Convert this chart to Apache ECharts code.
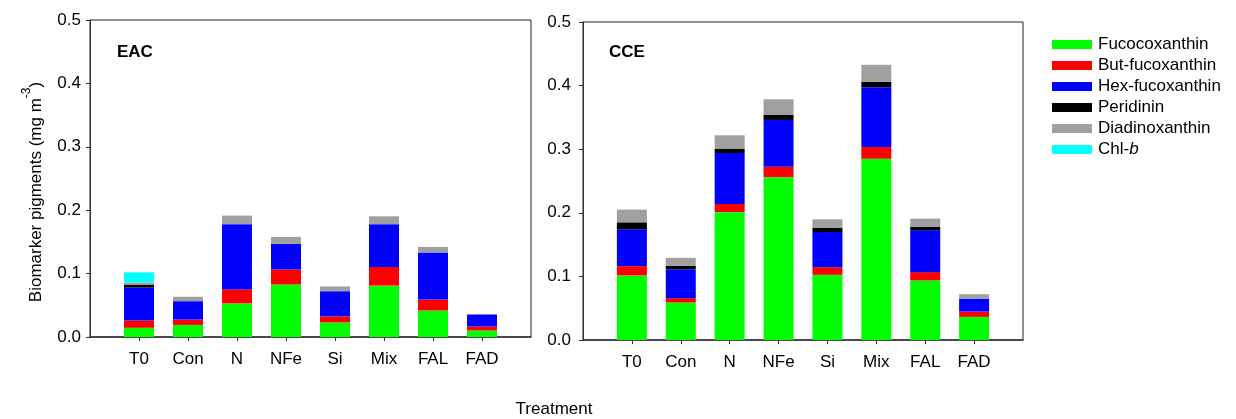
<!DOCTYPE html>
<html>
<head>
<meta charset="utf-8">
<script src="https://cdn.jsdelivr.net/npm/echarts@6/dist/echarts.min.js"></script>
<style>
html,body{margin:0;padding:0;background:#fff;}
#chart{width:1236px;height:419px;}
</style>
</head>
<body>
<div id="chart"></div>
<script>
const categories = ['T0', 'Con', 'N', 'NFe', 'Si', 'Mix', 'FAL', 'FAD'];
const pigmentNames = ['Fucocoxanthin', 'But-fucoxanthin', 'Hex-fucoxanthin', 'Peridinin', 'Diadinoxanthin', 'Chl-b'];
const pigmentColors = ['#00FF00', '#FF0000', '#0000FF', '#000000', '#A0A0A0', '#00FFFF'];

// EAC panel
const eacFuco = [0.0145, 0.019, 0.053, 0.0828, 0.023, 0.081, 0.0418, 0.0102];
const eacBut  = [0.0115, 0.0085, 0.022, 0.0236, 0.0095, 0.0296, 0.0173, 0.0063];
const eacHex  = [0.052, 0.029, 0.103, 0.0405, 0.0397, 0.0673, 0.0741, 0.019];
const eacPeri = [0.004, 0, 0, 0, 0, 0, 0, 0];
const eacDiad = [0.004, 0.007, 0.0135, 0.011, 0.0075, 0.0125, 0.0089, 0];
const eacChlb = [0.016, 0, 0, 0, 0, 0, 0, 0];

// CCE panel
const cceFuco = [0.1015, 0.059, 0.201, 0.256, 0.1025, 0.285, 0.0936, 0.0363];
const cceBut  = [0.0147, 0.0068, 0.013, 0.0163, 0.012, 0.0184, 0.0131, 0.0084];
const cceHex  = [0.0578, 0.0453, 0.080, 0.0737, 0.0552, 0.0941, 0.0657, 0.0203];
const ccePeri = [0.011, 0.0057, 0.0063, 0.0078, 0.0069, 0.0084, 0.0053, 0];
const cceDiad = [0.020, 0.0124, 0.0216, 0.0247, 0.0131, 0.0268, 0.0132, 0.007];
const cceChlb = [0, 0, 0, 0, 0, 0, 0, 0];

const panelLabels = ['EAC', 'CCE'];
const yTitleParts = ['Biomarker pigments (mg m', '-3', ')'];
const xTitle = 'Treatment';

const FONT = '"Liberation Sans", Arial, sans-serif';
const padCats = [''].concat(categories, ['']);
const pad = arr => ['-'].concat(arr, ['-']);

const eacSets = [eacFuco, eacBut, eacHex, eacPeri, eacDiad, eacChlb];
const cceSets = [cceFuco, cceBut, cceHex, ccePeri, cceDiad, cceChlb];

const series = [];
[eacSets, cceSets].forEach((sets, p) => {
  sets.forEach((arr, i) => {
    series.push({
      type: 'bar',
      name: pigmentNames[i],
      xAxisIndex: p,
      yAxisIndex: p,
      stack: 'panel' + p,
      barWidth: 30,
      itemStyle: { color: pigmentColors[i] },
      data: pad(arr)
    });
  });
});

const grids = [
  { left: 90, top: 20, width: 441, height: 317 },
  { left: 583, top: 22, width: 440, height: 318 }
];

const chart = echarts.init(document.getElementById('chart'), null, { renderer: 'canvas' });
chart.setOption({
  animation: false,
  backgroundColor: '#fff',
  textStyle: { fontFamily: FONT },
  grid: grids.map(g => Object.assign({ show: true, borderColor: '#222', borderWidth: 1, backgroundColor: 'transparent' }, g)),
  xAxis: [0, 1].map(i => ({
    type: 'category',
    gridIndex: i,
    data: padCats,
    boundaryGap: false,
    axisLine: { lineStyle: { color: '#333', width: 1.5 } },
    axisTick: { inside: false, length: 4, lineStyle: { color: '#333' }, interval: (idx) => idx > 0 && idx < padCats.length - 1 },
    axisLabel: { interval: 0, color: '#000', fontSize: 17, fontFamily: FONT, margin: 14 },
    splitLine: { show: false }
  })),
  yAxis: [0, 1].map(i => ({
    type: 'value',
    gridIndex: i,
    min: 0, max: 0.5, interval: 0.1,
    axisLine: { show: true, lineStyle: { color: '#333', width: 1 } },
    axisTick: { show: true, inside: false, length: 4, lineStyle: { color: '#333' } },
    axisLabel: { color: '#000', fontSize: 17, fontFamily: FONT, margin: i === 0 ? 9 : 12, formatter: v => v.toFixed(1) },
    splitLine: { show: false }
  })),
  legend: {
    orient: 'vertical',
    left: 1047,
    top: 31,
    itemWidth: 40,
    itemHeight: 9,
    itemGap: 4,
    icon: 'rect',
    data: pigmentNames,
    selectedMode: false,
    formatter: name => name === 'Chl-b' ? 'Chl-{i|b}' : name,
    textStyle: {
      color: '#000', fontSize: 17, fontFamily: FONT, lineHeight: 17, padding: [0, 0, 0, 1],
      rich: { i: { fontStyle: 'italic', fontSize: 17, fontFamily: FONT, color: '#000' } }
    }
  },
  graphic: [
    { type: 'text', left: 117, top: 44, style: { text: panelLabels[0], fontSize: 17, fontWeight: 'bold', fontFamily: FONT, fill: '#000' } },
    { type: 'text', left: 609, top: 44, style: { text: panelLabels[1], fontSize: 17, fontWeight: 'bold', fontFamily: FONT, fill: '#000' } },
    { type: 'text', x: 554, y: 409, style: { text: xTitle, fontSize: 17, fontFamily: FONT, fill: '#000', align: 'center', verticalAlign: 'middle' } },
    { type: 'text', x: 33, y: 192, rotation: Math.PI / 2,
      style: {
        text: '{a|' + yTitleParts[0] + '}{s|' + yTitleParts[1] + '}{a|' + yTitleParts[2] + '}',
        align: 'center', verticalAlign: 'middle',
        rich: {
          a: { fontSize: 17, fontFamily: FONT, color: '#000', lineHeight: 24, verticalAlign: 'bottom' },
          s: { fontSize: 12, fontFamily: FONT, color: '#000', lineHeight: 24, verticalAlign: 'top' }
        }
      }
    }
  ],
  series: series
});
</script>
</body>
</html>
